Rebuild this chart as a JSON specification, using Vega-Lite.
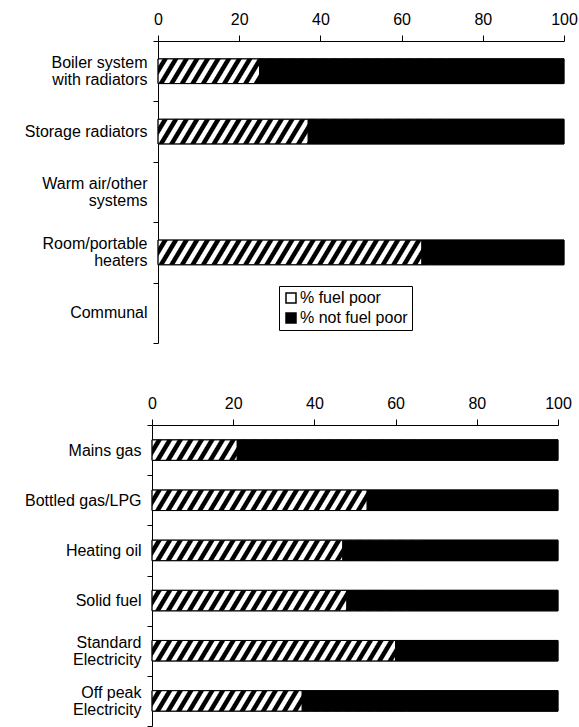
{
  "$schema": "https://vega.github.io/schema/vega-lite/v6.json",
  "padding": {"left": 24, "top": 11, "right": 0, "bottom": 0},
  "spacing": 51,
  "columns": 1,
  "align": "none",
  "config": {
    "font": "Liberation Sans",
    "view": {"stroke": null},
    "axis": {"labelFont": "Liberation Sans", "labelFontSize": 16, "labelColor": "black", "domainColor": "black", "tickColor": "black", "grid": false, "title": null},
    "legend": {"labelFont": "Liberation Sans", "labelFontSize": 16, "labelColor": "black"}
  },
  "datasets": {
    "heating": [
      {"category": "Boiler system with radiators", "status": "% fuel poor", "percent": 25},
      {"category": "Boiler system with radiators", "status": "% not fuel poor", "percent": 75},
      {"category": "Storage radiators", "status": "% fuel poor", "percent": 37},
      {"category": "Storage radiators", "status": "% not fuel poor", "percent": 63},
      {"category": "Room/portable heaters", "status": "% fuel poor", "percent": 65},
      {"category": "Room/portable heaters", "status": "% not fuel poor", "percent": 35}
    ],
    "fuel": [
      {"category": "Mains gas", "status": "% fuel poor", "percent": 21},
      {"category": "Mains gas", "status": "% not fuel poor", "percent": 79},
      {"category": "Bottled gas/LPG", "status": "% fuel poor", "percent": 53},
      {"category": "Bottled gas/LPG", "status": "% not fuel poor", "percent": 47},
      {"category": "Heating oil", "status": "% fuel poor", "percent": 47},
      {"category": "Heating oil", "status": "% not fuel poor", "percent": 53},
      {"category": "Solid fuel", "status": "% fuel poor", "percent": 48},
      {"category": "Solid fuel", "status": "% not fuel poor", "percent": 52},
      {"category": "Standard Electricity", "status": "% fuel poor", "percent": 60},
      {"category": "Standard Electricity", "status": "% not fuel poor", "percent": 40},
      {"category": "Off peak Electricity", "status": "% fuel poor", "percent": 37},
      {"category": "Off peak Electricity", "status": "% not fuel poor", "percent": 63}
    ]
  },
  "resolve": {"scale": {"x": "independent", "y": "independent", "color": "independent"}, "legend": {"color": "independent"}},
  "concat": [
    {
      "width": 406,
      "height": 302,
      "data": {"name": "heating"},
      "encoding": {
        "y": {
          "field": "category", "type": "nominal",
          "scale": {"domain": ["Boiler system with radiators", "Storage radiators", "Warm air/other systems", "Room/portable heaters", "Communal"], "paddingInner": 0, "paddingOuter": 0},
          "axis": {"orient": "left", "tickBand": "extent", "tickSize": 5, "labelPadding": 6, "labelLimit": 0, "labelLineHeight": 17, "title": null,
            "labelOffset": {"condition": {"test": "indexof(['Boiler system with radiators', 'Warm air/other systems', 'Room/portable heaters'], datum.value) >= 0", "value": -8.5}, "value": 0},
            "labelExpr": "datum.value == 'Boiler system with radiators' ? ['Boiler system', 'with radiators'] : datum.value == 'Warm air/other systems' ? ['Warm air/other', 'systems'] : datum.value == 'Room/portable heaters' ? ['Room/portable', 'heaters'] : datum.label"}
        }
      },
      "layer": [
        {
          "mark": {"type": "bar", "height": {"band": 0.41}, "stroke": "#222", "strokeWidth": 0.8,
            "fill": {"gradient": "linear", "x1": 0, "y1": 0, "x2": 1, "y2": 0.0367, "stops": [
              {"offset": 0, "color": "#fff"}, {"offset": 0.01, "color": "#fff"}, {"offset": 0.013, "color": "#000"}, {"offset": 0.023, "color": "#000"},
              {"offset": 0.026, "color": "#fff"}, {"offset": 0.036, "color": "#fff"}, {"offset": 0.039, "color": "#000"}, {"offset": 0.049, "color": "#000"},
              {"offset": 0.052, "color": "#fff"}, {"offset": 0.062, "color": "#fff"}, {"offset": 0.065, "color": "#000"}, {"offset": 0.075, "color": "#000"},
              {"offset": 0.078, "color": "#fff"}, {"offset": 0.088, "color": "#fff"}, {"offset": 0.091, "color": "#000"}, {"offset": 0.101, "color": "#000"},
              {"offset": 0.104, "color": "#fff"}, {"offset": 0.114, "color": "#fff"}, {"offset": 0.117, "color": "#000"}, {"offset": 0.127, "color": "#000"},
              {"offset": 0.13, "color": "#fff"}, {"offset": 0.14, "color": "#fff"}, {"offset": 0.143, "color": "#000"}, {"offset": 0.153, "color": "#000"},
              {"offset": 0.156, "color": "#fff"}, {"offset": 0.166, "color": "#fff"}, {"offset": 0.169, "color": "#000"}, {"offset": 0.179, "color": "#000"},
              {"offset": 0.182, "color": "#fff"}, {"offset": 0.192, "color": "#fff"}, {"offset": 0.195, "color": "#000"}, {"offset": 0.205, "color": "#000"},
              {"offset": 0.208, "color": "#fff"}, {"offset": 0.218, "color": "#fff"}, {"offset": 0.221, "color": "#000"}, {"offset": 0.231, "color": "#000"},
              {"offset": 0.234, "color": "#fff"}, {"offset": 0.244, "color": "#fff"}, {"offset": 0.247, "color": "#000"}, {"offset": 0.257, "color": "#000"},
              {"offset": 0.26, "color": "#fff"}, {"offset": 0.27, "color": "#fff"}, {"offset": 0.273, "color": "#000"}, {"offset": 0.283, "color": "#000"},
              {"offset": 0.286, "color": "#fff"}, {"offset": 0.296, "color": "#fff"}, {"offset": 0.299, "color": "#000"}, {"offset": 0.309, "color": "#000"},
              {"offset": 0.312, "color": "#fff"}, {"offset": 0.322, "color": "#fff"}, {"offset": 0.325, "color": "#000"}, {"offset": 0.335, "color": "#000"},
              {"offset": 0.338, "color": "#fff"}, {"offset": 0.348, "color": "#fff"}, {"offset": 0.351, "color": "#000"}, {"offset": 0.361, "color": "#000"},
              {"offset": 0.364, "color": "#fff"}, {"offset": 0.374, "color": "#fff"}, {"offset": 0.377, "color": "#000"}, {"offset": 0.387, "color": "#000"},
              {"offset": 0.39, "color": "#fff"}, {"offset": 0.4, "color": "#fff"}, {"offset": 0.403, "color": "#000"}, {"offset": 0.413, "color": "#000"},
              {"offset": 0.416, "color": "#fff"}, {"offset": 0.426, "color": "#fff"}, {"offset": 0.429, "color": "#000"}, {"offset": 0.439, "color": "#000"},
              {"offset": 0.442, "color": "#fff"}, {"offset": 0.452, "color": "#fff"}, {"offset": 0.455, "color": "#000"}, {"offset": 0.465, "color": "#000"},
              {"offset": 0.468, "color": "#fff"}, {"offset": 0.478, "color": "#fff"}, {"offset": 0.481, "color": "#000"}, {"offset": 0.491, "color": "#000"},
              {"offset": 0.494, "color": "#fff"}, {"offset": 0.504, "color": "#fff"}, {"offset": 0.507, "color": "#000"}, {"offset": 0.517, "color": "#000"},
              {"offset": 0.52, "color": "#fff"}, {"offset": 0.53, "color": "#fff"}, {"offset": 0.533, "color": "#000"}, {"offset": 0.543, "color": "#000"},
              {"offset": 0.546, "color": "#fff"}, {"offset": 0.556, "color": "#fff"}, {"offset": 0.559, "color": "#000"}, {"offset": 0.569, "color": "#000"},
              {"offset": 0.572, "color": "#fff"}, {"offset": 0.582, "color": "#fff"}, {"offset": 0.585, "color": "#000"}, {"offset": 0.595, "color": "#000"},
              {"offset": 0.598, "color": "#fff"}, {"offset": 0.608, "color": "#fff"}, {"offset": 0.611, "color": "#000"}, {"offset": 0.621, "color": "#000"},
              {"offset": 0.624, "color": "#fff"}, {"offset": 0.634, "color": "#fff"}, {"offset": 0.637, "color": "#000"}, {"offset": 0.647, "color": "#000"},
              {"offset": 0.65, "color": "#fff"}, {"offset": 0.66, "color": "#fff"}, {"offset": 0.663, "color": "#000"}, {"offset": 0.673, "color": "#000"},
              {"offset": 0.676, "color": "#fff"}, {"offset": 0.686, "color": "#fff"}, {"offset": 0.689, "color": "#000"}, {"offset": 0.699, "color": "#000"},
              {"offset": 0.702, "color": "#fff"}, {"offset": 0.712, "color": "#fff"}, {"offset": 0.715, "color": "#000"}, {"offset": 0.725, "color": "#000"}
            ]}},
          "encoding": {
            "x": {"aggregate": "sum", "field": "percent", "type": "quantitative", "scale": {"domain": [0, 100]},
              "axis": {"orient": "top", "values": [0, 20, 40, 60, 80, 100], "tickSize": 6, "labelPadding": 8, "labelFlush": false, "title": null}}
          }
        },
        {
          "mark": {"type": "bar", "height": {"band": 0.41}, "stroke": "black", "strokeWidth": 1},
          "encoding": {
            "x": {"field": "percent", "type": "quantitative", "stack": "zero",
              "axis": {"orient": "top", "values": [0, 20, 40, 60, 80, 100], "tickSize": 6, "labelPadding": 8, "labelFlush": false, "title": null}},
            "color": {"field": "status", "type": "nominal",
              "scale": {"domain": ["% fuel poor", "% not fuel poor"], "range": ["white", "black"]},
              "legend": {"orient": "none", "legendX": 121, "legendY": 245, "title": null, "direction": "vertical",
                "strokeColor": "black", "fillColor": "white", "padding": 4, "rowPadding": 4, "symbolSize": 100, "symbolOpacity": 1, "labelOffset": 1, "labelFontSize": 16}
            },
            "fillOpacity": {"condition": {"test": "datum.status === '% fuel poor'", "value": 0}, "value": 1},
            "order": {"field": "status"}
          }
        }
      ]
    },
    {
      "width": 406,
      "height": 301,
      "data": {"name": "fuel"},
      "encoding": {
        "y": {
          "field": "category", "type": "nominal",
          "scale": {"domain": ["Mains gas", "Bottled gas/LPG", "Heating oil", "Solid fuel", "Standard Electricity", "Off peak Electricity"], "paddingInner": 0, "paddingOuter": 0},
          "axis": {"orient": "left", "offset": 6, "tickBand": "extent", "tickSize": 5, "labelPadding": 6, "labelLimit": 0, "labelLineHeight": 17, "title": null,
            "labelOffset": {"condition": {"test": "indexof(['Standard Electricity', 'Off peak Electricity'], datum.value) >= 0", "value": -8.5}, "value": 0},
            "labelExpr": "datum.value == 'Standard Electricity' ? ['Standard', 'Electricity'] : datum.value == 'Off peak Electricity' ? ['Off peak', 'Electricity'] : datum.label"}
        }
      },
      "layer": [
        {
          "mark": {"type": "bar", "height": {"band": 0.41}, "stroke": "#222", "strokeWidth": 0.8,
            "fill": {"gradient": "linear", "x1": 0, "y1": 0, "x2": 1, "y2": 0.0304, "stops": [
              {"offset": 0, "color": "#fff"}, {"offset": 0.01, "color": "#fff"}, {"offset": 0.013, "color": "#000"}, {"offset": 0.023, "color": "#000"},
              {"offset": 0.026, "color": "#fff"}, {"offset": 0.036, "color": "#fff"}, {"offset": 0.039, "color": "#000"}, {"offset": 0.049, "color": "#000"},
              {"offset": 0.052, "color": "#fff"}, {"offset": 0.062, "color": "#fff"}, {"offset": 0.065, "color": "#000"}, {"offset": 0.075, "color": "#000"},
              {"offset": 0.078, "color": "#fff"}, {"offset": 0.088, "color": "#fff"}, {"offset": 0.091, "color": "#000"}, {"offset": 0.101, "color": "#000"},
              {"offset": 0.104, "color": "#fff"}, {"offset": 0.114, "color": "#fff"}, {"offset": 0.117, "color": "#000"}, {"offset": 0.127, "color": "#000"},
              {"offset": 0.13, "color": "#fff"}, {"offset": 0.14, "color": "#fff"}, {"offset": 0.143, "color": "#000"}, {"offset": 0.153, "color": "#000"},
              {"offset": 0.156, "color": "#fff"}, {"offset": 0.166, "color": "#fff"}, {"offset": 0.169, "color": "#000"}, {"offset": 0.179, "color": "#000"},
              {"offset": 0.182, "color": "#fff"}, {"offset": 0.192, "color": "#fff"}, {"offset": 0.195, "color": "#000"}, {"offset": 0.205, "color": "#000"},
              {"offset": 0.208, "color": "#fff"}, {"offset": 0.218, "color": "#fff"}, {"offset": 0.221, "color": "#000"}, {"offset": 0.231, "color": "#000"},
              {"offset": 0.234, "color": "#fff"}, {"offset": 0.244, "color": "#fff"}, {"offset": 0.247, "color": "#000"}, {"offset": 0.257, "color": "#000"},
              {"offset": 0.26, "color": "#fff"}, {"offset": 0.27, "color": "#fff"}, {"offset": 0.273, "color": "#000"}, {"offset": 0.283, "color": "#000"},
              {"offset": 0.286, "color": "#fff"}, {"offset": 0.296, "color": "#fff"}, {"offset": 0.299, "color": "#000"}, {"offset": 0.309, "color": "#000"},
              {"offset": 0.312, "color": "#fff"}, {"offset": 0.322, "color": "#fff"}, {"offset": 0.325, "color": "#000"}, {"offset": 0.335, "color": "#000"},
              {"offset": 0.338, "color": "#fff"}, {"offset": 0.348, "color": "#fff"}, {"offset": 0.351, "color": "#000"}, {"offset": 0.361, "color": "#000"},
              {"offset": 0.364, "color": "#fff"}, {"offset": 0.374, "color": "#fff"}, {"offset": 0.377, "color": "#000"}, {"offset": 0.387, "color": "#000"},
              {"offset": 0.39, "color": "#fff"}, {"offset": 0.4, "color": "#fff"}, {"offset": 0.403, "color": "#000"}, {"offset": 0.413, "color": "#000"},
              {"offset": 0.416, "color": "#fff"}, {"offset": 0.426, "color": "#fff"}, {"offset": 0.429, "color": "#000"}, {"offset": 0.439, "color": "#000"},
              {"offset": 0.442, "color": "#fff"}, {"offset": 0.452, "color": "#fff"}, {"offset": 0.455, "color": "#000"}, {"offset": 0.465, "color": "#000"},
              {"offset": 0.468, "color": "#fff"}, {"offset": 0.478, "color": "#fff"}, {"offset": 0.481, "color": "#000"}, {"offset": 0.491, "color": "#000"},
              {"offset": 0.494, "color": "#fff"}, {"offset": 0.504, "color": "#fff"}, {"offset": 0.507, "color": "#000"}, {"offset": 0.517, "color": "#000"},
              {"offset": 0.52, "color": "#fff"}, {"offset": 0.53, "color": "#fff"}, {"offset": 0.533, "color": "#000"}, {"offset": 0.543, "color": "#000"},
              {"offset": 0.546, "color": "#fff"}, {"offset": 0.556, "color": "#fff"}, {"offset": 0.559, "color": "#000"}, {"offset": 0.569, "color": "#000"},
              {"offset": 0.572, "color": "#fff"}, {"offset": 0.582, "color": "#fff"}, {"offset": 0.585, "color": "#000"}, {"offset": 0.595, "color": "#000"},
              {"offset": 0.598, "color": "#fff"}, {"offset": 0.608, "color": "#fff"}, {"offset": 0.611, "color": "#000"}, {"offset": 0.621, "color": "#000"},
              {"offset": 0.624, "color": "#fff"}, {"offset": 0.634, "color": "#fff"}, {"offset": 0.637, "color": "#000"}, {"offset": 0.647, "color": "#000"},
              {"offset": 0.65, "color": "#fff"}, {"offset": 0.66, "color": "#fff"}, {"offset": 0.663, "color": "#000"}, {"offset": 0.673, "color": "#000"}
            ]}},
          "encoding": {
            "x": {"aggregate": "sum", "field": "percent", "type": "quantitative", "scale": {"domain": [0, 100], "range": [-6, 400]},
              "axis": {"orient": "top", "values": [0, 20, 40, 60, 80, 100], "tickSize": 6, "labelPadding": 8, "labelFlush": false, "title": null}}
          }
        },
        {
          "mark": {"type": "bar", "height": {"band": 0.41}, "stroke": "black", "strokeWidth": 1},
          "encoding": {
            "x": {"field": "percent", "type": "quantitative", "stack": "zero",
              "axis": {"orient": "top", "values": [0, 20, 40, 60, 80, 100], "tickSize": 6, "labelPadding": 8, "labelFlush": false, "title": null}},
            "color": {"field": "status", "type": "nominal",
              "scale": {"domain": ["% fuel poor", "% not fuel poor"], "range": ["white", "black"]},
              "legend": null},
            "fillOpacity": {"condition": {"test": "datum.status === '% fuel poor'", "value": 0}, "value": 1},
            "order": {"field": "status"}
          }
        }
      ]
    }
  ]
}
